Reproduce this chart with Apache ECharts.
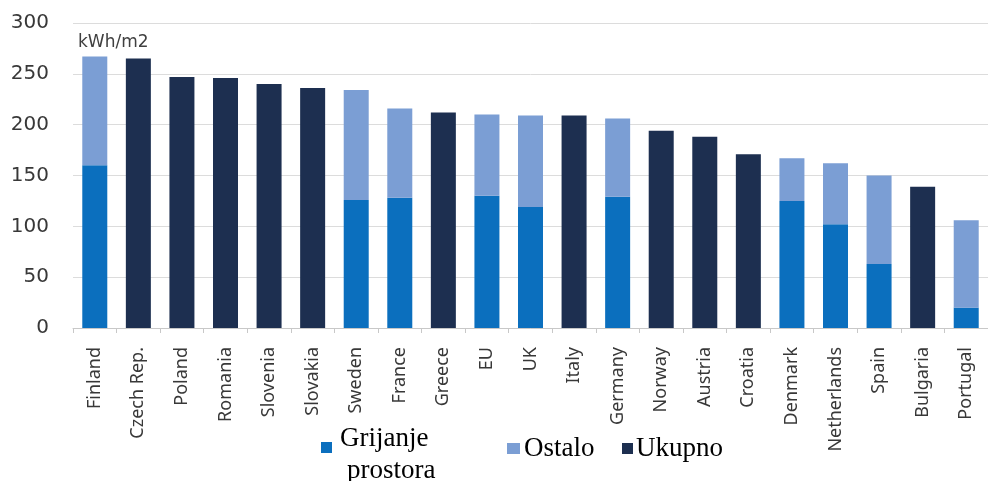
<!DOCTYPE html>
<html>
<head>
<meta charset="utf-8">
<title>Energija po m2</title>
<script src="https://cdn.jsdelivr.net/npm/echarts@6/dist/echarts.min.js"></script>
<style>
  html, body { margin: 0; padding: 0; background: #ffffff; }
  #chart { width: 988px; height: 481px; }
</style>
</head>
<body>
<div id="chart"></div>
<script>
// Countries ordered by total energy use per m2
const categories = ['Finland', 'Czech Rep.', 'Poland', 'Romania', 'Slovenia', 'Slovakia', 'Sweden',
  'France', 'Greece', 'EU', 'UK', 'Italy', 'Germany', 'Norway', 'Austria', 'Croatia', 'Denmark',
  'Netherlands', 'Spain', 'Bulgaria', 'Portugal'];

// Space heating share (kWh/m2), where a breakdown exists
const heating = [160, null, null, null, null, null, 126, 128, null, 130, 119, null, 129,
  null, null, null, 125, 102, 63, null, 20];

// Remaining use on top of heating (kWh/m2)
const other = [107, null, null, null, null, null, 108, 88, null, 80, 90, null, 77,
  null, null, null, 42, 60, 87, null, 86];

// Total only, for countries without a breakdown (kWh/m2)
const total = [null, 265, 247, 246, 240, 236, null, null, 212, null, null, 209, null,
  194, 188, 171, null, null, null, 139, null];

const yTicks = { min: 0, max: 300, interval: 50 };

const seriesNames = ['Grijanje prostora', 'Ostalo', 'Ukupno'];
const colors = ['#0B6FBE', '#7B9ED4', '#1D2F50'];

const chart = echarts.init(document.getElementById('chart'), null, { renderer: 'canvas' });

const barBase = {
  type: 'bar',
  stack: 'use',
  barWidth: 25,
  emphasis: { disabled: true }
};

const legendFont = '27px "Liberation Serif"';

chart.setOption({
  animation: false,
  backgroundColor: '#ffffff',
  grid: { left: 73, right: -15, top: 23, bottom: 153, containLabel: false },
  xAxis: {
    type: 'category',
    data: categories,
    axisLine: { show: true, lineStyle: { color: '#c8c8c8', width: 1 } },
    axisTick: { show: true, length: 5, lineStyle: { color: '#c8c8c8' } },
    axisLabel: {
      rotate: 90,
      interval: 0,
      margin: 19,
      color: '#383838',
      fontFamily: 'Noto Sans',
      fontSize: 18
    }
  },
  yAxis: {
    type: 'value',
    min: yTicks.min,
    max: yTicks.max,
    interval: yTicks.interval,
    axisLine: { show: false },
    axisTick: { show: false },
    splitLine: { lineStyle: { color: '#dcdcdc', width: 1 } },
    axisLabel: {
      margin: 24,
      color: '#383838',
      fontFamily: 'DejaVu Sans',
      fontSize: 20
    }
  },
  series: [
    Object.assign({}, barBase, { name: seriesNames[0], data: heating, itemStyle: { color: colors[0] } }),
    Object.assign({}, barBase, { name: seriesNames[1], data: other, itemStyle: { color: colors[1] } }),
    Object.assign({}, barBase, { name: seriesNames[2], data: total, itemStyle: { color: colors[2] } })
  ],
  graphic: [
    // unit label above the first bar
    {
      type: 'text', left: 78, top: 34,
      style: { text: 'kWh/m2', fill: '#404040', font: '17px "DejaVu Sans"' }
    },
    // legend
    { type: 'rect', shape: { x: 321, y: 442, width: 11, height: 11 }, style: { fill: colors[0] } },
    { type: 'text', x: 340, y: 425, style: { text: 'Grijanje', fill: '#000000', font: legendFont, verticalAlign: 'top' } },
    { type: 'text', x: 347, y: 457, style: { text: 'prostora', fill: '#000000', font: legendFont, verticalAlign: 'top' } },
    { type: 'rect', shape: { x: 507, y: 443, width: 13, height: 11 }, style: { fill: colors[1] } },
    { type: 'text', x: 524, y: 435, style: { text: 'Ostalo', fill: '#000000', font: legendFont, verticalAlign: 'top' } },
    { type: 'rect', shape: { x: 622, y: 443, width: 11, height: 11 }, style: { fill: colors[2] } },
    { type: 'text', x: 636, y: 435, style: { text: 'Ukupno', fill: '#000000', font: legendFont, verticalAlign: 'top' } }
  ]
});
</script>
</body>
</html>
